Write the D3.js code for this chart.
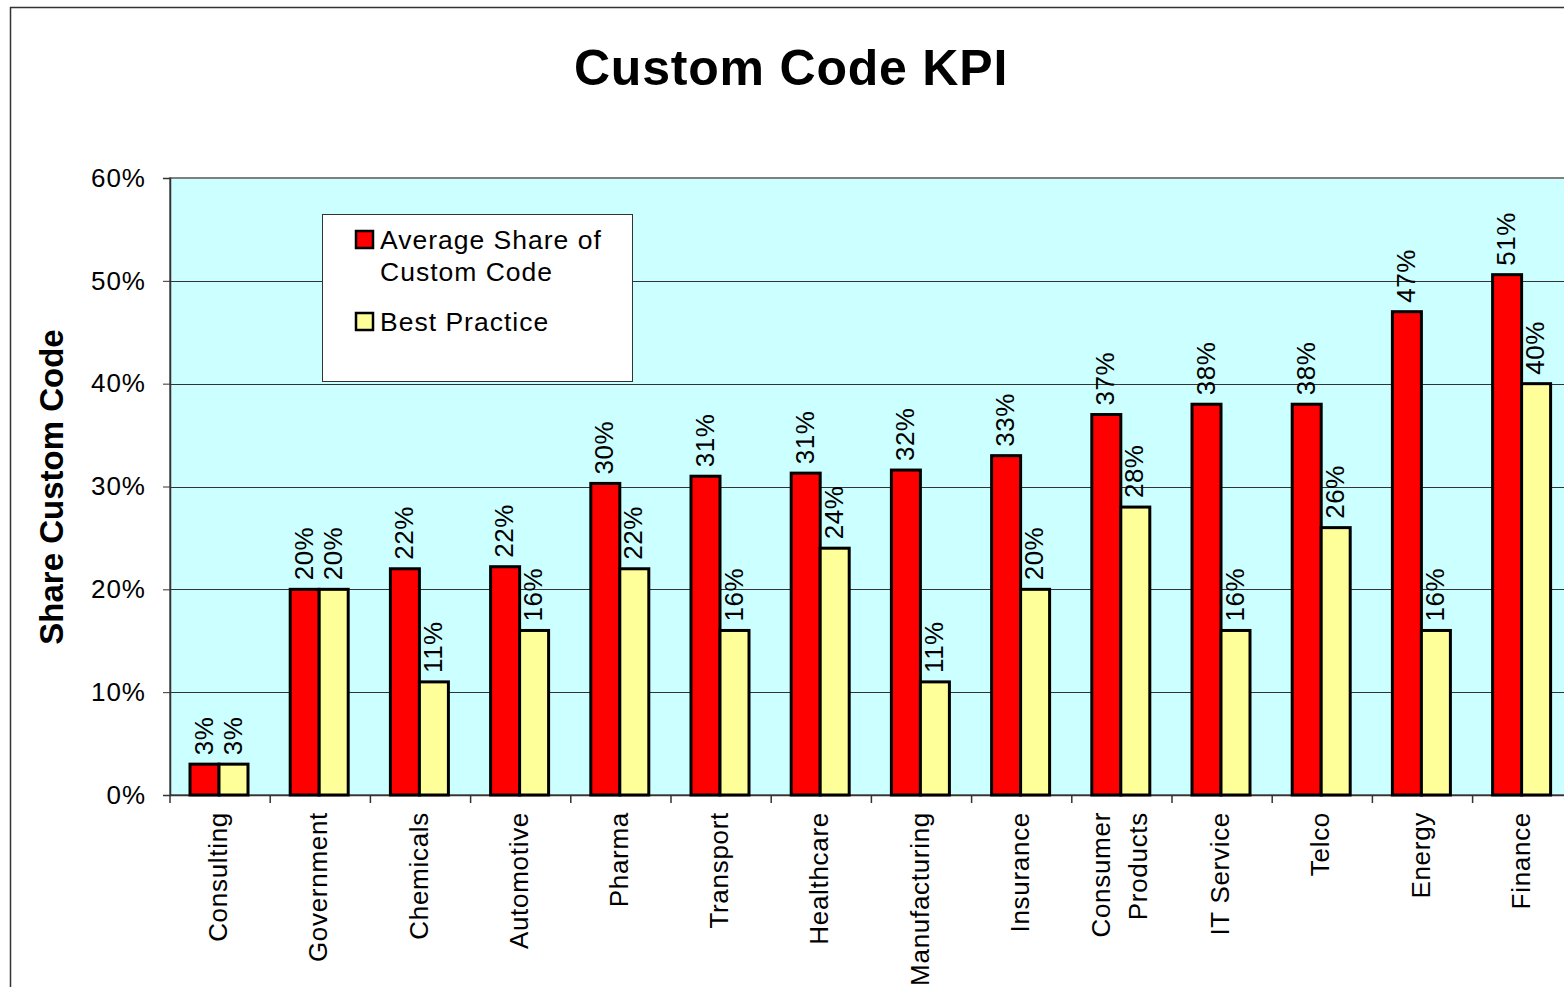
<!DOCTYPE html>
<html lang="en">
<head>
    <meta charset="UTF-8">
    <title>Custom Code KPI</title>
    <script src="https://d3js.org/d3.v7.min.js"></script>
    <style>
        body { margin: 0; background: #fff; font-family: "Liberation Sans", Arial, sans-serif; }
        svg { display: block; }
    </style>
</head>
<body>
    <div id="chart"></div>
    <script>
        // Data
        const categories = ["Consulting", "Government", "Chemicals", "Automotive", "Pharma", "Transport",
            "Healthcare", "Manufacturing", "Insurance", "Consumer\nProducts", "IT Service", "Telco", "Energy", "Finance"];
        const averageShare = [3, 20, 22, 22.2, 30.3, 31, 31.3, 31.6, 33, 37, 38, 38, 47, 50.6];
        const bestPractice = [3, 20, 11, 16, 22, 16, 24, 11, 20, 28, 16, 26, 16, 40];
        const seriesNames = ["Average Share of\nCustom Code", "Best Practice"];
        const seriesColors = ["#ff0000", "#ffff99"];
        const yTicks = [0, 10, 20, 30, 40, 50, 60];

        const W = 1564, H = 987;
        const plot = { left: 170, top: 178, bottom: 795 };

        const svg = d3.select("#chart").append("svg")
            .attr("width", W).attr("height", H);

        // outer chart frame
        svg.append("rect")
            .attr("x", 10.5).attr("y", 7.5)
            .attr("width", W).attr("height", H)
            .attr("fill", "#fff").attr("stroke", "#333").attr("stroke-width", 1.5);

        const x0 = d3.scaleBand().domain(categories).range([plot.left, plot.left + 14 * 100.2]);
        const x1 = d3.scaleBand().domain([0, 1]).range([20, 78]);
        const y = d3.scaleLinear().domain([0, 60]).range([plot.bottom, plot.top]);

        // plot background
        svg.append("rect")
            .attr("x", plot.left).attr("y", plot.top)
            .attr("width", W - plot.left + 5).attr("height", plot.bottom - plot.top)
            .attr("fill", "#ccffff").attr("stroke", "#808080").attr("stroke-width", 2);

        // gridlines
        svg.append("g").selectAll("line")
            .data(yTicks.filter(d => d > 0 && d < 60))
            .join("line")
            .attr("x1", plot.left).attr("x2", W)
            .attr("y1", d => Math.round(y(d)) + 0.5).attr("y2", d => Math.round(y(d)) + 0.5)
            .attr("stroke", "#333").attr("stroke-width", 1);

        // y axis
        const yAxis = svg.append("g")
            .attr("transform", `translate(${plot.left},0)`)
            .call(d3.axisLeft(y).tickValues(yTicks).tickFormat(d => d + "%").tickSize(7).tickPadding(17));
        yAxis.select(".domain").attr("stroke", "#333").attr("stroke-width", 1.5);
        yAxis.selectAll(".tick line").attr("stroke", "#333");
        yAxis.selectAll("text")
            .attr("font-family", "Liberation Sans, Arial, sans-serif")
            .attr("font-size", 26).attr("letter-spacing", 1).attr("fill", "#000");

        // x axis
        const xAxis = svg.append("g")
            .attr("transform", `translate(0,${plot.bottom})`)
            .call(d3.axisBottom(x0).tickSize(0).tickFormat(""));
        xAxis.select(".domain").attr("stroke", "#333").attr("stroke-width", 1.5);
        // tick marks at band boundaries
        xAxis.selectAll(".bound")
            .data(categories)
            .join("line")
            .attr("x1", d => x0(d)).attr("x2", d => x0(d))
            .attr("y1", 0).attr("y2", 8)
            .attr("stroke", "#333").attr("stroke-width", 1.5);

        // category labels, rotated
        const catLabels = svg.append("g").selectAll("text")
            .data(categories)
            .join("text")
            .attr("transform", d => `translate(${x0(d) + x0.bandwidth() / 2 + 7},${plot.bottom + 17}) rotate(-90)`)
            .attr("text-anchor", "end")
            .attr("font-size", 26)
            .attr("letter-spacing", 0.7)
            .attr("fill", "#000");
        catLabels.each(function (d) {
            const lines = d.split("\n");
            const sel = d3.select(this);
            lines.forEach((ln, i) => {
                sel.append("tspan")
                    .attr("x", 0)
                    .attr("dy", i === 0 ? -(lines.length - 1) * 19 : 37)
                    .text(ln);
            });
        });

        // bars
        const rows = categories.map((c, i) => ({ cat: c, vals: [averageShare[i], bestPractice[i]] }));
        const groups = svg.append("g").selectAll("g")
            .data(rows)
            .join("g")
            .attr("transform", d => `translate(${x0(d.cat)},0)`);

        groups.selectAll("rect")
            .data(d => d.vals.map((v, k) => ({ v, k })))
            .join("rect")
            .attr("x", d => x1(d.k))
            .attr("y", d => y(d.v))
            .attr("width", x1.bandwidth())
            .attr("height", d => y(0) - y(d.v))
            .attr("fill", d => seriesColors[d.k])
            .attr("stroke", "#000").attr("stroke-width", 3);

        // value labels
        groups.selectAll("text")
            .data(d => d.vals.map((v, k) => ({ v, k })))
            .join("text")
            .attr("transform", d => `translate(${x1(d.k) + x1.bandwidth() / 2 + 8},${y(d.v) - 9}) rotate(-90)`)
            .attr("font-size", 26)
            .attr("letter-spacing", 0.5)
            .attr("fill", "#000")
            .text(d => Math.round(d.v) + "%");

        // legend
        const lg = svg.append("g").attr("transform", "translate(322,214)");
        lg.append("rect")
            .attr("x", 0.5).attr("y", 0.5).attr("width", 310).attr("height", 167)
            .attr("fill", "#fff").attr("stroke", "#333").attr("stroke-width", 1);
        const legendRows = [{ y: 26, name: seriesNames[0], c: seriesColors[0] },
                            { y: 108, name: seriesNames[1], c: seriesColors[1] }];
        legendRows.forEach(r => {
            lg.append("rect")
                .attr("x", 34).attr("y", r.y - 9).attr("width", 17).attr("height", 17)
                .attr("fill", r.c).attr("stroke", "#000").attr("stroke-width", 2.5);
            const t = lg.append("text")
                .attr("font-size", 26.5).attr("letter-spacing", 1).attr("fill", "#000");
            r.name.split("\n").forEach((ln, i) => {
                t.append("tspan").attr("x", 58).attr("y", r.y + 9 + i * 32).text(ln);
            });
        });

        // title
        svg.append("text")
            .attr("x", 791).attr("y", 85)
            .attr("text-anchor", "middle")
            .attr("font-size", 50).attr("font-weight", "bold")
            .attr("letter-spacing", 0.8)
            .text("Custom Code KPI");

        // y axis title
        svg.append("text")
            .attr("transform", "translate(63,487) rotate(-90)")
            .attr("text-anchor", "middle")
            .attr("font-size", 33).attr("font-weight", "bold")
            .text("Share Custom Code");
    </script>
</body>
</html>
